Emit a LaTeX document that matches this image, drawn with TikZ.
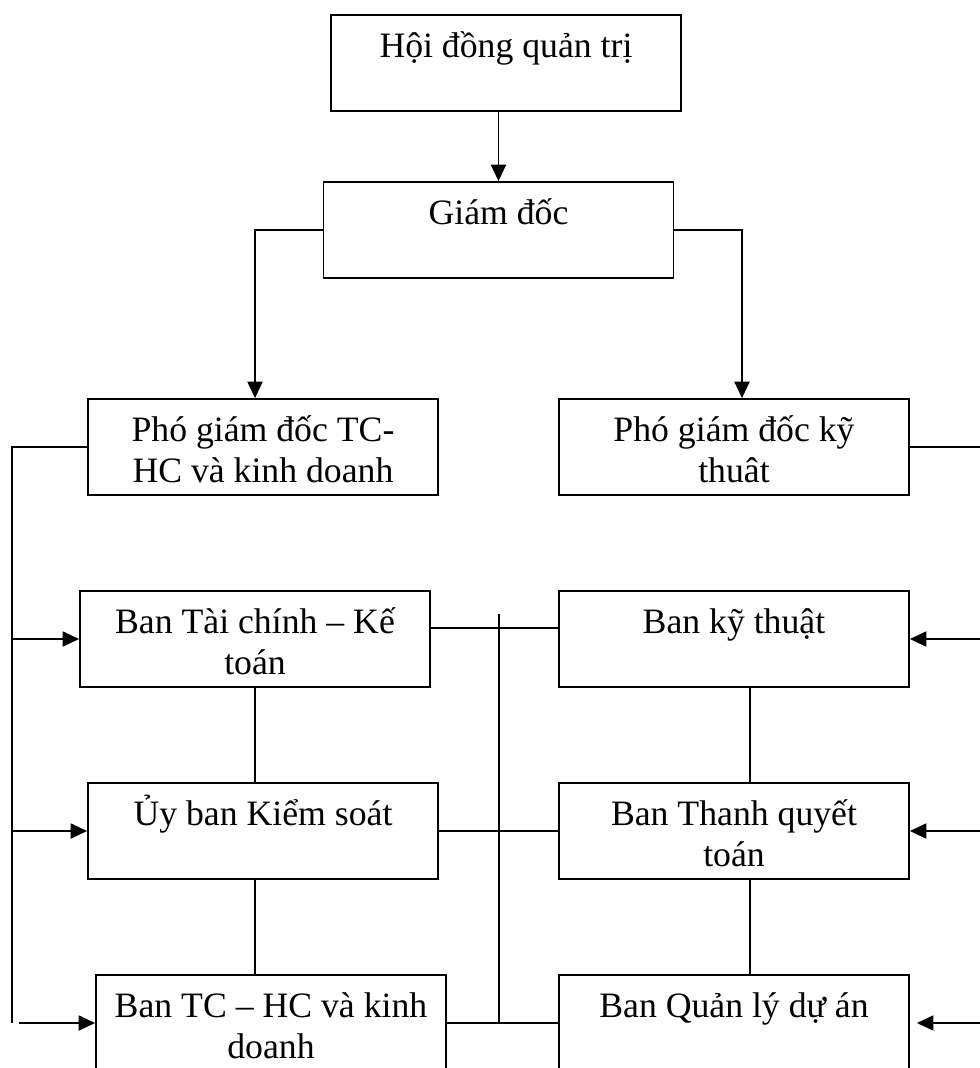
\documentclass[tikz,border=0pt]{standalone}
\usepackage{fontspec}
\setmainfont{Liberation Serif}
\usetikzlibrary{arrows.meta}

\newcommand{\boxtext}[1]{\parbox[c][2.4cm][t]{8.75cm}{\centering\rule{0pt}{1.05cm}#1}}

\begin{document}
\begin{tikzpicture}[
    x=0.025cm, y=-0.025cm,
    unit/.style={
        draw=black, line width=1.3pt, inner sep=0pt,
        font=\fontsize{25.4}{29.2}\selectfont
    },
    arr/.style={-{Triangle[length=0.41cm, width=0.38cm]}, line width=0.9pt},
    link/.style={line width=0.9pt},
]
\useasboundingbox (0,0) rectangle (980,1068);
\clip (0,0) rectangle (980,1068);

%% Board and director
\node[unit] (hdqt) at (506, 63) {\boxtext{Hội đồng quản trị}};
\node[unit] (gd) at (498.5, 230) {\boxtext{Giám đốc}};

%% Deputies
\node[unit] (pgdtc) at (263, 447) {\boxtext{Phó giám đốc TC-\\HC và kinh doanh}};
\node[unit] (pgdkt) at (734, 447) {\boxtext{Phó giám đốc kỹ\\thuât}};

%% Left column
\node[unit] (bantckt) at (255, 639) {\boxtext{Ban Tài chính – Kế\\toán}};
\node[unit] (ubks) at (263, 831) {\boxtext{Ủy ban Kiểm soát}};
\node[unit] (bantchc) at (271, 1023) {\boxtext{Ban TC – HC và kinh\\doanh}};

%% Right column
\node[unit] (bankt) at (734, 639) {\boxtext{Ban kỹ thuật}};
\node[unit] (banttqt) at (734, 831) {\boxtext{Ban Thanh quyết\\toán}};
\node[unit] (banqlda) at (734, 1023) {\boxtext{Ban Quản lý dự án}};

%% Bus positions
\coordinate (lbus) at (12, 0);
\coordinate (lgap) at (19, 0);
\coordinate (ldrop) at (255, 0);
\coordinate (rdrop) at (742, 0);
\coordinate (rlink) at (750, 0);
\coordinate (rbus) at (980, 0);
\coordinate (rgap) at (917, 0);
\coordinate (mbus) at (499, 614);
\coordinate (tlink) at (0, 628);

%% Top arrows
\draw[arr] (hdqt.south -| gd.north) -- (gd.north);
\draw[arr] (gd.west) -| (ldrop |- pgdtc.north);
\draw[arr] (gd.east) -| (rdrop |- pgdkt.north);

%% Left bus
\draw[link] (pgdtc.west) -| (lbus |- bantchc.west);
\draw[arr] (lbus |- bantckt.west) -- (bantckt.west);
\draw[arr] (lbus |- ubks.west) -- (ubks.west);
\draw[arr] (lgap |- bantchc.west) -- (bantchc.west);

%% Right bus
\draw[link] (pgdkt.east) -- (rbus |- pgdkt.east);
\draw[arr] (rbus |- bankt.east) -- (bankt.east);
\draw[arr] (rbus |- banttqt.east) -- (banttqt.east);
\draw[arr] (rbus |- banqlda.east) -- (rgap |- banqlda.east);

%% Column links
\draw[link] (bantckt.south) -- (bantckt.south |- ubks.north);
\draw[link] (bantckt.south |- ubks.south) -- (bantckt.south |- bantchc.north);
\draw[link] (rlink |- bankt.south) -- (rlink |- banttqt.north);
\draw[link] (rlink |- banttqt.south) -- (rlink |- banqlda.north);

%% Middle links
\draw[link] (bantckt.east |- tlink) -- (bankt.west |- tlink);
\draw[link] (ubks.east) -- (banttqt.west);
\draw[link] (bantchc.east) -- (banqlda.west);
\draw[link] (mbus) -- (mbus |- bantchc.east);

\end{tikzpicture}
\end{document}
